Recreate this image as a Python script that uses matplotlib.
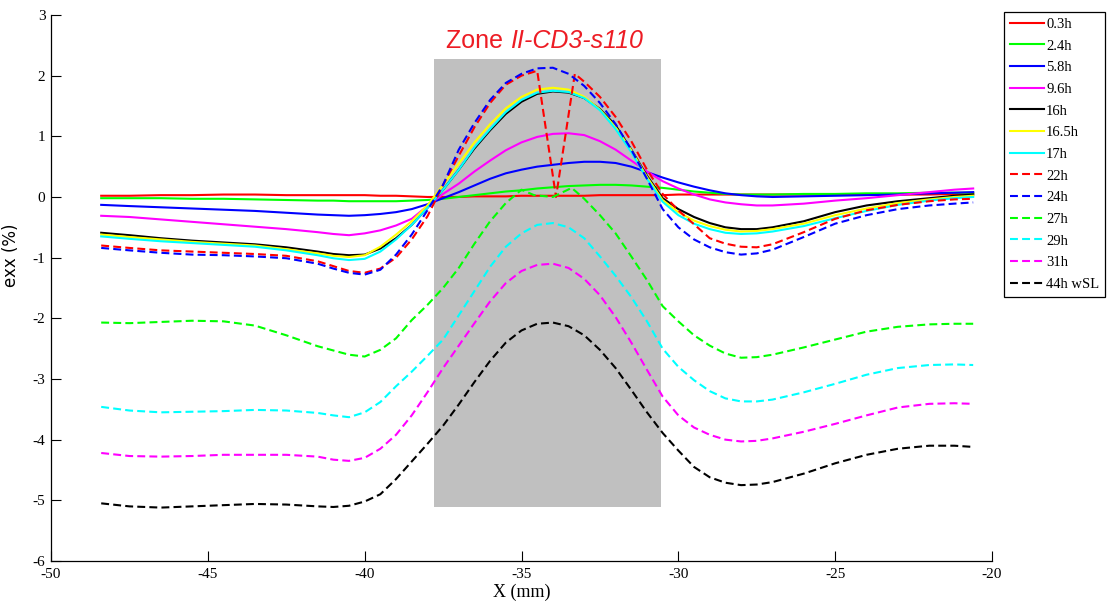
import matplotlib

matplotlib.use("Agg")
import matplotlib.pyplot as plt
from matplotlib.patches import Rectangle

# values (x in mm, exx in %)
X_GRID = [-48.4, -47.5, -46.5, -45.5, -44.5, -43.5, -42.5, -41.5, -41, -40.5, -40, -39.5, -39, -38.5, -38,
          -37.5, -37, -36.5, -36, -35.5, -35, -34.5, -34, -33.5, -33, -32.5, -32, -31.5, -31, -30.5,
          -30, -29.5, -29, -28.5, -28, -27.5, -27, -26, -25, -24, -23, -22, -21.2, -20.6]

Y_0P3H = [0.02, 0.02, 0.03, 0.03, 0.04, 0.04, 0.03, 0.03, 0.03, 0.03, 0.03, 0.02, 0.02, 0.01, 0.0,
          0.0, 0.0, 0.01, 0.01, 0.01, 0.02, 0.02, 0.02, 0.02, 0.02, 0.03, 0.03, 0.03, 0.03, 0.03,
          0.04, 0.04, 0.04, 0.04, 0.04, 0.04, 0.04, 0.04, 0.04, 0.04, 0.04, 0.04, 0.05, 0.05]
Y_2P4H = [-0.02, -0.02, -0.02, -0.03, -0.03, -0.04, -0.05, -0.06, -0.06, -0.07, -0.07, -0.07, -0.07, -0.06, -0.05,
          -0.03, 0.0, 0.03, 0.06, 0.09, 0.11, 0.14, 0.16, 0.18, 0.19, 0.2, 0.2, 0.19, 0.17, 0.15,
          0.12, 0.09, 0.07, 0.05, 0.04, 0.04, 0.04, 0.05, 0.05, 0.06, 0.06, 0.07, 0.07, 0.07]
Y_5P8H = [-0.13, -0.15, -0.17, -0.19, -0.21, -0.23, -0.26, -0.29, -0.3, -0.31, -0.3, -0.28, -0.25, -0.2, -0.12,
          -0.02, 0.08, 0.19, 0.3, 0.39, 0.45, 0.5, 0.53, 0.56, 0.58, 0.58, 0.56, 0.5, 0.41, 0.32,
          0.24, 0.17, 0.11, 0.06, 0.03, 0.01, 0.0, 0.01, 0.02, 0.03, 0.04, 0.06, 0.07, 0.08]
Y_9P6H = [-0.31, -0.33, -0.37, -0.41, -0.45, -0.49, -0.53, -0.58, -0.61, -0.63, -0.6, -0.55, -0.47, -0.36, -0.15,
          0.05, 0.22, 0.42, 0.6, 0.77, 0.9, 0.99, 1.04, 1.05, 1.02, 0.92, 0.78, 0.6, 0.42, 0.26,
          0.14, 0.04, -0.04, -0.09, -0.12, -0.14, -0.14, -0.11, -0.06, -0.02, 0.03, 0.08, 0.12, 0.14]
Y_16H = [-0.59, -0.63, -0.68, -0.72, -0.75, -0.78, -0.83, -0.9, -0.94, -0.96, -0.95, -0.85, -0.68, -0.46, -0.18,
         0.12, 0.45, 0.8, 1.1, 1.37, 1.57, 1.7, 1.74, 1.72, 1.63, 1.45, 1.18, 0.78, 0.35, -0.02,
         -0.2, -0.33, -0.43, -0.5, -0.53, -0.53, -0.5, -0.4, -0.25, -0.14, -0.07, -0.02, 0.02, 0.04]
Y_16P5H = [-0.62, -0.66, -0.7, -0.74, -0.77, -0.8, -0.86, -0.93, -0.97, -0.99, -0.96, -0.82, -0.62, -0.4, -0.14,
           0.2, 0.55, 0.9, 1.2, 1.46, 1.65, 1.77, 1.8, 1.77, 1.65, 1.44, 1.15, 0.77, 0.33, -0.05,
           -0.25, -0.39, -0.48, -0.54, -0.57, -0.56, -0.53, -0.44, -0.3, -0.19, -0.1, -0.04, 0.0, 0.02]
Y_17H = [-0.65, -0.69, -0.73, -0.76, -0.79, -0.82, -0.88, -0.96, -1.01, -1.04, -1.02, -0.9, -0.7, -0.46, -0.18,
         0.12, 0.45, 0.82, 1.12, 1.4, 1.6, 1.72, 1.75, 1.73, 1.63, 1.43, 1.12, 0.74, 0.3, -0.08,
         -0.3, -0.44, -0.53, -0.59, -0.61, -0.6, -0.57, -0.48, -0.35, -0.23, -0.13, -0.06, -0.02, 0.0]
Y_24H = [-0.84, -0.88, -0.92, -0.95, -0.96, -0.98, -1.01, -1.1, -1.18, -1.25, -1.28, -1.2, -0.95, -0.62, -0.22,
         0.2, 0.78, 1.22, 1.6, 1.88, 2.03, 2.12, 2.13, 2.03, 1.83, 1.55, 1.2, 0.78, 0.3, -0.2,
         -0.5, -0.7, -0.83, -0.91, -0.95, -0.93, -0.87, -0.66, -0.44, -0.3, -0.2, -0.14, -0.11, -0.09]
Y_29H = [-3.46, -3.52, -3.55, -3.54, -3.53, -3.51, -3.52, -3.56, -3.6, -3.63, -3.55, -3.38, -3.12, -2.88, -2.62,
         -2.35, -1.95, -1.55, -1.15, -0.82, -0.6, -0.46, -0.43, -0.5, -0.68, -0.98, -1.3, -1.65, -2.05, -2.5,
         -2.8, -3.02, -3.2, -3.32, -3.37, -3.37, -3.34, -3.22, -3.08, -2.93, -2.82, -2.77, -2.76, -2.77]
Y_31H = [-4.22, -4.27, -4.28, -4.27, -4.25, -4.25, -4.25, -4.28, -4.33, -4.35, -4.3, -4.15, -3.92, -3.6, -3.22,
         -2.82, -2.45, -2.08, -1.72, -1.42, -1.22, -1.12, -1.1, -1.17, -1.35, -1.62, -1.98, -2.4, -2.85, -3.29,
         -3.6, -3.8, -3.92, -4.0, -4.03, -4.02, -3.98, -3.87, -3.74, -3.6, -3.47, -3.41, -3.4, -3.41]
Y_44H = [-5.05, -5.1, -5.12, -5.1, -5.08, -5.06, -5.07, -5.1, -5.11, -5.09, -5.02, -4.9, -4.65, -4.36, -4.07,
         -3.77, -3.42, -3.05, -2.7, -2.4, -2.2, -2.09, -2.07, -2.13, -2.28, -2.52, -2.82, -3.18, -3.55, -3.89,
         -4.18, -4.45, -4.62, -4.71, -4.75, -4.74, -4.7, -4.56, -4.39, -4.25, -4.15, -4.1, -4.1, -4.12]

# 22h has a spike near the centre and 27h a small notch, so they keep their own x positions
X_22H = [-48.4, -47.5, -46.5, -45.5, -44.5, -43.5, -42.5, -41.5, -41, -40.5, -40, -39.5, -39, -38.5, -38,
         -37.5, -37, -36.5, -36, -35.5, -35, -34.5, -33.9, -33.3, -33, -32.5, -32, -31.5, -31, -30.5,
         -30, -29.5, -29, -28.5, -28, -27.5, -27, -26, -25, -24, -23, -22, -21.2, -20.6]
Y_22H = [-0.8, -0.84, -0.88, -0.9, -0.92, -0.94, -0.97, -1.06, -1.14, -1.22, -1.25, -1.18, -1.0, -0.7, -0.32,
         0.2, 0.68, 1.15, 1.55, 1.85, 2.0, 2.08, 0.0, 2.03, 1.9, 1.65, 1.32, 0.92, 0.45, 0.05,
         -0.22, -0.45, -0.68, -0.77, -0.82, -0.83, -0.78, -0.58, -0.36, -0.22, -0.13, -0.07, -0.04, -0.03]
X_27H = [-48.4, -47.5, -46.5, -45.5, -44.5, -43.5, -42.5, -41.5, -41, -40.5, -40, -39.5, -39, -38.5, -38,
         -37.5, -37, -36.5, -36, -35.5, -35, -34.6, -34, -33.4, -33, -32.5, -32, -31.5, -31, -30.5,
         -30, -29.5, -29, -28.5, -28, -27.5, -27, -26, -25, -24, -23, -22, -21.2, -20.6]
Y_27H = [-2.07, -2.08, -2.06, -2.04, -2.05, -2.12, -2.28, -2.46, -2.53, -2.6, -2.63, -2.52, -2.33, -2.03, -1.78,
         -1.5, -1.17, -0.77, -0.4, -0.1, 0.12, 0.03, 0.0, 0.15, -0.03, -0.3, -0.6, -0.98, -1.37, -1.8,
         -2.05, -2.28, -2.45, -2.58, -2.65, -2.64, -2.6, -2.48, -2.35, -2.22, -2.14, -2.1, -2.09, -2.09]

LABELS = ["0.3h", "2.4h", "5.8h", "9.6h", "16h", "16.5h", "17h", "22h", "24h", "27h", "29h", "31h", "44h wSL"]

# grey band marking the zone (mm, %)
ZONE_X = (-37.8, -30.56)
ZONE_Y = (-5.11, 2.27)
TITLE_MAIN = "Zone "
TITLE_ITALIC = "II-CD3-s110"


def main():
    plt.rcParams["axes.unicode_minus"] = False

    series = [
        (X_GRID, Y_0P3H, "#ff0000", "-"),
        (X_GRID, Y_2P4H, "#00ff00", "-"),
        (X_GRID, Y_5P8H, "#0000ff", "-"),
        (X_GRID, Y_9P6H, "#ff00ff", "-"),
        (X_GRID, Y_16H, "#000000", "-"),
        (X_GRID, Y_16P5H, "#ffff00", "-"),
        (X_GRID, Y_17H, "#00ffff", "-"),
        (X_22H, Y_22H, "#ff0000", "--"),
        (X_GRID, Y_24H, "#0000ff", "--"),
        (X_27H, Y_27H, "#00ff00", "--"),
        (X_GRID, Y_29H, "#00ffff", "--"),
        (X_GRID, Y_31H, "#ff00ff", "--"),
        (X_GRID, Y_44H, "#000000", "--"),
    ]

    fig = plt.figure(figsize=(11.09, 6.06), dpi=100)
    ax = fig.add_axes([0.046, 0.0743, 0.8485, 0.901])

    ax.add_patch(Rectangle((ZONE_X[0], ZONE_Y[0]), ZONE_X[1] - ZONE_X[0], ZONE_Y[1] - ZONE_Y[0],
                           facecolor="#c0c0c0", edgecolor="none", zorder=0))

    for (xs, ys, color, ls), label in zip(series, LABELS):
        line, = ax.plot(xs, ys, color=color, lw=1.5, ls=ls, label=label, zorder=2)
        if ls == "--":
            line.set_dashes((3.8, 2.0))

    ax.set_xlim(-50, -20)
    ax.set_ylim(-6, 3)
    ax.set_xticks(range(-50, -19, 5))
    ax.set_yticks(range(-6, 4))
    for sp in ("top", "right"):
        ax.spines[sp].set_visible(False)
    for sp in ("left", "bottom"):
        ax.spines[sp].set_linewidth(0.9)
    ax.tick_params(direction="in", length=7, width=0.8, labelsize=11, pad=4)
    ax.tick_params(axis="x", pad=5)
    for lbl in ax.get_xticklabels() + ax.get_yticklabels():
        lbl.set_fontfamily("Liberation Serif")

    ax.set_xlabel("X (mm)", fontsize=13, family="Liberation Serif", labelpad=2)
    ax.set_ylabel("exx (%)", fontsize=12, family="DejaVu Sans")
    ax.yaxis.set_label_coords(-0.033, 0.56)

    t1 = ax.text(-37.42, 2.37, TITLE_MAIN, color="#ed1c24", fontsize=18, family="Liberation Sans",
                 ha="left", va="bottom")
    ax.annotate(TITLE_ITALIC, xy=(1, 0), xycoords=t1, color="#ed1c24", fontsize=18,
                family="Liberation Sans", style="italic", ha="left", va="bottom")

    leg = fig.legend(loc="upper left", bbox_to_anchor=(0.9055, 0.981), fancybox=False, framealpha=1,
                     edgecolor="black", prop={"family": "Liberation Serif", "size": 10.5},
                     handlelength=2.3, handletextpad=0.15, labelspacing=0.58, borderpad=0.42,
                     borderaxespad=0)
    leg.get_frame().set_linewidth(0.9)

    fig.savefig("out.png", dpi=100)


if __name__ == "__main__":
    main()
